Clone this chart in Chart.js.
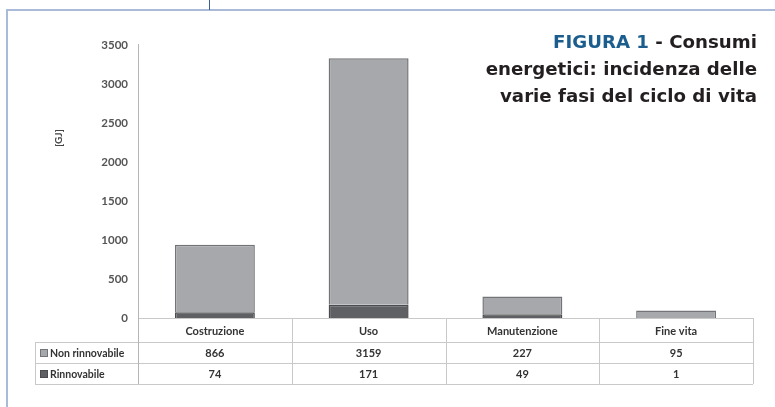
<!DOCTYPE html>
<html><head><meta charset="utf-8">
<script src="https://cdn.jsdelivr.net/npm/chart.js@4/dist/chart.umd.min.js"></script>
<style>
html,body{margin:0;padding:0;background:#fff;}
#wrap{position:relative;width:775px;height:407px;overflow:hidden;}
#frame{position:absolute;left:6px;top:9px;width:800px;height:420px;border-left:2px solid #a9bbd8;border-top:2px solid #a9bbd8;}
#tick{position:absolute;left:209px;top:0;width:1px;height:10px;background:#3d5f97;}
#title{position:absolute;right:18px;top:28px;text-align:right;font-family:"DejaVu Sans",sans-serif;font-weight:bold;font-size:18.2px;line-height:27px;color:#231f20;}
#title .b{color:#1b5e8e;}
canvas{position:absolute;left:0;top:0;}
</style></head>
<body><div id="wrap">
<div id="frame"></div><div id="tick"></div>
<canvas id="c" width="775" height="407"></canvas>
<div id="title"><span class="b">FIGURA 1</span> - Consumi<br>energetici: incidenza delle<br>varie fasi del ciclo di vita</div>
</div>
<script>
const categories = ['Costruzione','Uso','Manutenzione','Fine vita'];
const nonRinnovabile = [866, 3159, 227, 95];
const rinnovabile = [74, 171, 49, 1];
const seriesNames = ['Non rinnovabile','Rinnovabile'];
const yTicks = [0,500,1000,1500,2000,2500,3000,3500];
const yTitle = '[GJ]';

const colNon = {bg:'#a6a8ac', border:'#737477'};
const colRin = {bg:'#5f6064', border:'#4a4b4e'};

const lineCol = '#c9c9c9';
const tablePlugin = {
  id:'table',
  afterDraw(chart){
    const ctx = chart.ctx, ca = chart.chartArea, x = chart.scales.x;
    const n = categories.length;
    const step = (ca.right-ca.left)/n;
    const top = ca.bottom, r1 = top+24, r2 = r1+21, r3 = r2+21;
    const legL = 35;
    ctx.save();
    ctx.strokeStyle = lineCol; ctx.lineWidth = 1;
    const hl = (y,x0,x1)=>{ctx.beginPath();ctx.moveTo(x0,Math.round(y)+0.5);ctx.lineTo(x1,Math.round(y)+0.5);ctx.stroke();};
    const vl = (xx,y0,y1)=>{ctx.beginPath();ctx.moveTo(Math.round(xx)+0.5,y0);ctx.lineTo(Math.round(xx)+0.5,y1);ctx.stroke();};
    hl(top, ca.left, ca.right);
    hl(r1, legL, ca.right); hl(r2, legL, ca.right); hl(r3, legL, ca.right);
    for(let i=1;i<=n;i++) vl(ca.left+step*i, top, r3);
    vl(legL, r1, r3);
    ctx.strokeStyle = '#b5b5b5';
    vl(ca.left, ca.top-1, r3);
    ctx.fillStyle = '#333'; ctx.textAlign='center'; ctx.textBaseline='middle';
    ctx.font = 'bold 11px Lato, sans-serif';
    categories.forEach((c,i)=>{
      const cx = x.getPixelForValue(i);
      ctx.fillText(c, cx, (top+r1)/2+1);
      ctx.fillText(String(nonRinnovabile[i]), cx, (r1+r2)/2+1);
      ctx.fillText(String(rinnovabile[i]), cx, (r2+r3)/2+1);
    });
    ctx.font = 'bold 10.5px Lato, sans-serif';
    [[r1,r2,colNon],[r2,r3,colRin]].forEach(([a,b,col],k)=>{
      const ym = (a+b)/2;
      ctx.fillStyle = col.bg; ctx.strokeStyle = col.border;
      ctx.fillRect(40, ym-3.5, 8, 8); ctx.strokeRect(40.5, ym-3, 7, 7);
      ctx.fillStyle = '#333'; ctx.textAlign='left';
      ctx.fillText(seriesNames[k], 50, ym+1);
    });
    ctx.translate(59, 138); ctx.rotate(-Math.PI/2);
    ctx.textAlign='center'; ctx.font='bold 10px Lato, sans-serif'; ctx.fillStyle='#444';
    ctx.fillText(yTitle, 0, 0);
    ctx.restore();
  }
};

new Chart(document.getElementById('c'), {
  type:'bar',
  data:{
    labels: categories,
    datasets:[
      {label:seriesNames[1], data:rinnovabile, backgroundColor:colRin.bg, borderColor:colRin.border, borderWidth:1.5},
      {label:seriesNames[0], data:nonRinnovabile, backgroundColor:colNon.bg, borderColor:colNon.border, borderWidth:1.5}
    ]
  },
  options:{
    responsive:false, animation:false,
    layout:{padding:{left:0,right:22,top:45,bottom:89}},
    categoryPercentage:0.52, barPercentage:1,
    plugins:{legend:{display:false}, tooltip:{enabled:false}, title:{display:false}},
    scales:{
      x:{stacked:true, display:false},
      y:{stacked:true, min:0, max:3500,
         afterFit(s){s.width=138;},
         afterBuildTicks(s){s.ticks = yTicks.map(v=>({value:v}));},
         grid:{display:false, drawTicks:false},
         border:{display:false},
         ticks:{padding:10, color:'#555', font:{family:'Lato, sans-serif', size:11.5, weight:'bold'}, callback:(v)=>String(v)}
      }
    }
  },
  plugins:[tablePlugin]
});
</script>
</body></html>
